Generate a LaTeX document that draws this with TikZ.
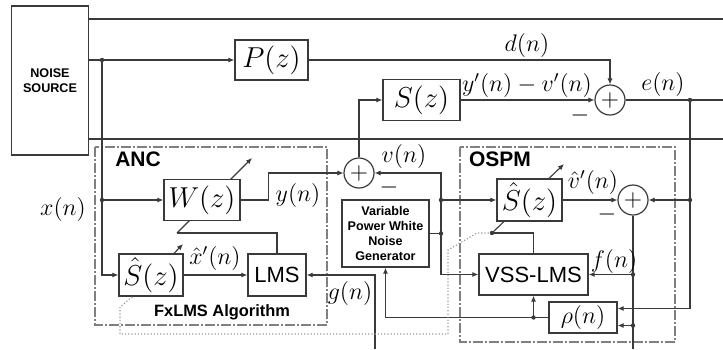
\documentclass[tikz,border=0pt]{standalone}
\usepackage{fontspec}
\setsansfont{Liberation Sans}
\usetikzlibrary{arrows.meta,backgrounds}
\definecolor{WireGray}{HTML}{3A3A3A}
\definecolor{FrameGray}{HTML}{808080}

\begin{document}
\begin{tikzpicture}[
      x=0.5pt, y=-0.5pt,
      wire/.style={draw=WireGray, line width=0.55pt},
      link/.style={wire, -{Latex[length=3pt,width=2.6pt]}},
      block/.style={
        draw=WireGray, fill=white, line width=0.7pt, inner sep=0pt,
        font=\fontsize{14}{16}\selectfont
      },
      label/.style={
        block, align=center, font=\sffamily\bfseries\fontsize{6.3}{7.6}\selectfont
      },
      sumnode/.style={
        circle, draw=WireGray, fill=white, line width=0.6pt,
        minimum size=15pt, inner sep=0pt, font=\fontsize{12}{12}\selectfont
      },
      sig/.style={font=\fontsize{11.5}{13}\selectfont, inner sep=0pt},
      minus/.style={font=\fontsize{13}{13}\selectfont, inner sep=0pt},
      group/.style={draw=FrameGray, line width=0.6pt,
        dash pattern=on 5pt off 1.2pt on 0.6pt off 1.2pt},
      grouptitle/.style={font=\sffamily\bfseries\fontsize{10.5}{12}\selectfont, inner sep=0pt},
      copyline/.style={draw=FrameGray!80, line width=0.6pt, densely dotted},
      junction/.style={fill=WireGray}
    ]
      \useasboundingbox (0,0) rectangle (723,349);

      % blocks
      \node[label, minimum width=38.5pt, minimum height=74.5pt] (noise) at (50,80.5) {NOISE\\SOURCE};
      \node[block, minimum width=36.5pt, minimum height=20pt] (P) at (271.5,60) {$P(z)$};
      \node[block, minimum width=38.5pt, minimum height=20.5pt] (S) at (421.5,100) {$S(z)$};
      \node[block, minimum width=38pt, minimum height=20.5pt] (W) at (202,200) {$W(z)$};
      \node[block, minimum width=32pt, minimum height=21pt] (ShA) at (151,275) {$\hat{S}(z)$};
      \node[block, minimum width=29pt, minimum height=21pt,
        font=\sffamily\fontsize{11}{13}\selectfont] (LMS) at (277,275) {LMS};
      \node[label, minimum width=43.5pt, minimum height=33.5pt] (gen) at (385.5,233.5)
        {Variable\\Power White\\Noise\\Generator};
      \node[block, minimum width=32.5pt, minimum height=21pt] (ShO) at (529.5,200) {$\hat{S}(z)$};
      \node[block, minimum width=54.5pt, minimum height=20.5pt,
        font=\sffamily\fontsize{11}{13}\selectfont] (VSS) at (533.5,274.5) {VSS-LMS};
      \node[block, minimum width=34pt, minimum height=15.5pt,
        font=\fontsize{12}{14}\selectfont] (rho) at (583,317.5) {$\rho(n)$};
      \node[sumnode] (s1) at (610,100) {$+$};
      \node[sumnode] (s2) at (359,173) {$+$};
      \node[sumnode] (s3) at (633,200) {$+$};

      % frames
      \draw[group] (95,147) rectangle (327,325);
      \draw[group] (460,147) rectangle (675,342);
      \node[grouptitle] (ancT) at (138,159) {ANC};
      \node[grouptitle] (ospmT) at (500,159) {OSPM};
      \node[font=\sffamily\bfseries\fontsize{8.2}{10}\selectfont, inner sep=0pt] (fxT) at (222,312) {FxLMS Algorithm};

      % free ends
      \coordinate (ductTR) at (723,19);
      \coordinate (ductBR) at (723,139);
      \coordinate (xs) at (102,60);
      \coordinate (ej) at (690,100);
      \coordinate (eR) at (723,100);
      \coordinate (eB) at (633,349);
      \coordinate (gB) at (375,349);
      \coordinate (vj) at (441,233.5);
      \coordinate (wA) at (177,233);
      \coordinate (sA) at (132,297);
      \coordinate (sO) at (492,233);
      \coordinate (rhoT) at ([yshift=4.5pt]rho.east);
      \coordinate (rhoB) at ([yshift=-4pt]rho.east);
      \coordinate (rj) at (VSS.south |- rho.west);

      % duct and reference signal
      \draw[wire] (noise.east |- ductTR) -- (ductTR);
      \draw[wire] (noise.east |- ductBR) -- (ductBR);
      \draw[link] (noise.east |- P.west) -- (P.west);
      \draw[link] (xs) |- (ShA.west);
      \draw[link] (xs |- W.west) -- (W.west);
      \node[sig, font=\fontsize{12}{13}\selectfont] (xlbl) at (63,209) {$x(n)$};

      % primary and secondary paths
      \draw[link] (P.east) -| (s1.north);
      \node[sig] (dlbl) at (527,45) {$d(n)$};
      \draw[link] (S.east) -- (s1.west);
      \node[sig] (yvlbl) at (527,85) {$y'(n)-v'(n)$};
      \node[minus] (m1) at (580,115) {$-$};
      \draw[wire] (s1.east) -- (eR);
      \node[sig] (elbl) at (663,84) {$e(n)$};
      \draw[link] (ej) |- (rhoT);
      \draw[link] (ej |- s3.east) -- (s3.east);

      % ANC
      \draw[link] (W.east) -- ++(28,0) |- (s2.west);
      \node[sig] (ylbl) at (298,195) {$y(n)$};
      \draw[link] (s2.north) |- (S.west);
      \draw[link] (ShA.east) -- (LMS.west);
      \node[sig] (xhlbl) at (215,258) {$\hat{x}'(n)$};
      \draw[wire] (LMS.north) |- (wA);
      \draw[link] (gB) |- (LMS.east);
      \node[sig] (glbl) at (350,293) {$g(n)$};

      % OSPM
      \draw[wire] (gen.east) -- (vj);
      \draw[link] (vj) |- (s2.east);
      \draw[link] (vj) |- (VSS.west);
      \draw[link] (vj |- ShO.west) -- (ShO.west);
      \node[sig] (vlbl) at (404,156) {$v(n)$};
      \node[minus] (m2) at (389,187) {$-$};
      \draw[link] (ShO.east) -- (s3.west);
      \node[sig] (vhlbl) at (593,182) {$\hat{v}'(n)$};
      \node[minus] (m3) at (607,214) {$-$};
      \draw[wire] (s3.south) -- (eB);
      \draw[link] (s3.south |- VSS.east) -- (VSS.east);
      \node[sig] (flbl) at (614,261) {$f(n)$};
      \draw[link] (s3.south |- rhoB) -- (rhoB);
      \draw[wire] (rho.west) -- (rj);
      \draw[link] (rj) -| (gen.south);
      \draw[link] (rj) -- (VSS.south);
      \draw[wire] (sO) -| (VSS.north);

      % adaptive arrows and copy of the secondary path model
      \begin{scope}[on background layer]
        \draw[link] (wA) -- (252,158);
        \draw[link] (sA) -- (183,244);
        \draw[link] (sO) -- (564,164);
      \end{scope}
      \draw[copyline] (sO) -- (477,233) -- (448,250) -- (448,334) -- (120,334) -- (120,307) -- (sA);

      % junctions
      \fill[junction] (xs) circle[radius=1.1pt] (xs |- W.west) circle[radius=1.1pt]
        (ej) circle[radius=1.1pt] (ej |- s3.east) circle[radius=1.1pt]
        (vj) circle[radius=1.1pt] (vj |- ShO.west) circle[radius=1.1pt]
        (s3.south |- VSS.east) circle[radius=1.1pt] (s3.south |- rhoB) circle[radius=1.1pt]
        (rj) circle[radius=1.1pt] (sO) circle[radius=1.1pt];
    \end{tikzpicture}
\end{document}
